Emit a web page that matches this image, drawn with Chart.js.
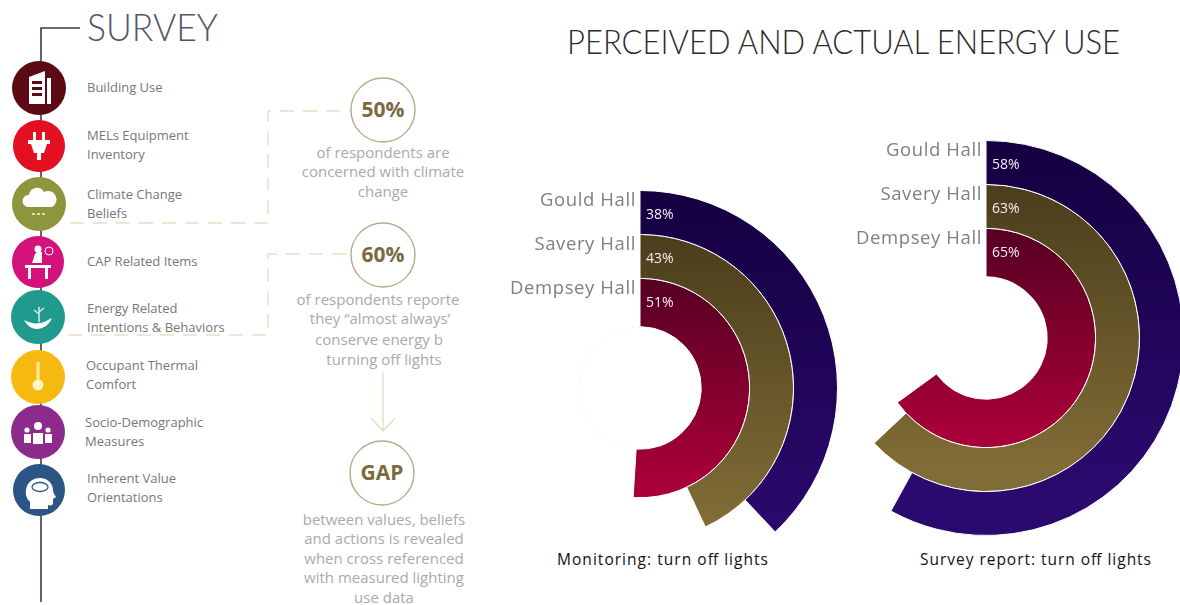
<!DOCTYPE html>
<html>
<head>
<meta charset="utf-8">
<script src="https://cdn.jsdelivr.net/npm/chart.js@4"></script>
<style>
  html, body { margin: 0; background: #fff; overflow: hidden; }
  #page { position: relative; width: 1180px; height: 605px; overflow: hidden; }
  #panel { position: absolute; left: 0; top: 0; }
  canvas { position: absolute; }
  #monitoringChart { left: 442px; top: 190px; }
  #surveyChart { left: 788px; top: 140px; }
  .topic { font: 13px "Open Sans", sans-serif; fill: #777; }
  .note { font: 15px "Open Sans", sans-serif; fill: #aaa; text-anchor: middle; }
  .stat { font: 700 21px "Open Sans", sans-serif; fill: #7b6a3c; text-anchor: middle; }
  .ring { fill: #fff; stroke: #b5ac8a; stroke-width: 1.4; }
  .link { fill: none; stroke: #e6dfc4; stroke-width: 1.4; stroke-dasharray: 14 9; }
  .caption { font: 15.5px "Open Sans", sans-serif; fill: #111; }
  .ico { fill: #fff; }
</style>
</head>
<body>
<div id="page">
  <svg id="panel" width="1180" height="605">
    <!-- timeline spine -->
    <path d="M80 28H41V602" fill="none" stroke="#3c3c4c" stroke-width="1.6"/>
    <text x="87" y="41" font-family="Lato" font-weight="300" font-size="37" fill="#55556a" textLength="131" lengthAdjust="spacingAndGlyphs">SURVEY</text>

    <!-- survey topics -->
    <circle cx="39" cy="88" r="27" fill="#5c0a14"/>
    <path class="ico" d="M29 77l16-6v33H29zM32 81v3h10v-3zM32 87v3h10v-3zM32 93v3h10v-3zM47 78h4v26h-4z"/>
    <circle cx="39" cy="146" r="26" fill="#e31021"/>
    <path class="ico" d="M33 132h3v8h6v-8h3v8h5v4h-3l-3 9h-3v7h-4v-7h-3l-3-9h-3v-4h5z"/>
    <circle cx="39" cy="204" r="27" fill="#8d963c"/>
    <path class="ico" d="M28 207a6 6 0 0 1 1-12 8 8 0 0 1 15-3 8 8 0 0 1 8 15z"/>
    <path d="M32 214h14" stroke="#dfe2b5" stroke-width="2" stroke-dasharray="3 2"/>
    <circle cx="38" cy="262" r="26" fill="#d4127e"/>
    <path class="ico" d="M25 265h26v3h-3v11h-3v-11H31v11h-3v-11h-3zM32 263l3-9a4 4 0 0 1 3-2h4v11z"/>
    <circle class="ico" cx="38" cy="249" r="3.5"/>
    <circle cx="49" cy="251" r="4" fill="none" stroke="#fff" stroke-width="1"/>
    <circle cx="38" cy="317" r="27" fill="#1f9a8c"/>
    <path class="ico" d="M24 320c6 3 12 4 15 3 4 0 7-2 13-5-3 7-9 11-15 11-6 0-10-4-13-9z"/>
    <path d="M39 322V307M39 314l-5-4M39 312l5-4" stroke="#cfe9e4" stroke-width="1.6" fill="none"/>
    <circle cx="38" cy="377" r="27" fill="#f6b90f"/>
    <circle cx="38" cy="385" r="5.5" fill="#fff4c4"/>
    <path d="M38 380V362" stroke="#fde58c" stroke-width="3.5"/>
    <circle cx="38" cy="432" r="27" fill="#8c2b8c"/>
    <path class="ico" d="M33 433h10v11H33zM24 434h7v9h-7zM45 434h7v9h-7z"/>
    <circle class="ico" cx="38" cy="426" r="4"/>
    <circle class="ico" cx="27" cy="430" r="2.6"/>
    <circle class="ico" cx="48" cy="430" r="2.6"/>
    <circle cx="39" cy="490" r="26" fill="#2b5584"/>
    <path class="ico" d="M30 509v-7c-3-3-5-7-4-12 1-8 7-12 14-12 8 0 13 6 13 12 0 2 1 4 3 7l-3 2v4c0 2-2 3-5 2v4z"/>
    <ellipse cx="40" cy="487" rx="8" ry="4.5" fill="none" stroke="#2b5584" stroke-width="1.3"/>

    <text class="topic" x="87" y="92">Building Use</text>
    <text class="topic" x="87" y="140">MELs Equipment</text>
    <text class="topic" x="87" y="159">Inventory</text>
    <text class="topic" x="87" y="199">Climate Change</text>
    <text class="topic" x="87" y="218">Beliefs</text>
    <text class="topic" x="87" y="266">CAP Related Items</text>
    <text class="topic" x="87" y="313">Energy Related</text>
    <text class="topic" x="87" y="332">Intentions &amp; Behaviors</text>
    <text class="topic" x="86" y="370">Occupant Thermal</text>
    <text class="topic" x="86" y="389">Comfort</text>
    <text class="topic" x="85" y="427">Socio-Demographic</text>
    <text class="topic" x="85" y="446">Measures</text>
    <text class="topic" x="87" y="483">Inherent Value</text>
    <text class="topic" x="87" y="502">Orientations</text>

    <!-- dashed links into the stat bubbles -->
    <path class="link" d="M70 223H268V111H352"/>
    <path class="link" d="M68 335H268V254H352"/>

    <circle class="ring" cx="383" cy="110" r="32"/>
    <text class="stat" x="383" y="117">50%</text>
    <text class="note" x="383" y="158">of respondents are</text>
    <text class="note" x="383" y="177">concerned with climate</text>
    <text class="note" x="383" y="197">change</text>

    <circle class="ring" cx="383" cy="255" r="32"/>
    <text class="stat" x="383" y="262">60%</text>
    <text class="note" x="378" y="305">of respondents reporte</text>
    <text class="note" x="380" y="324">they “almost always’</text>
    <text class="note" x="379" y="345">conserve energy b</text>
    <text class="note" x="384" y="365">turning off lights</text>

    <path d="M383 372V431M371 418L383 431L395 418" fill="none" stroke="#e3dcc0" stroke-width="1.3"/>

    <circle class="ring" cx="382" cy="473" r="32"/>
    <text class="stat" x="382" y="480">GAP</text>
    <text class="note" x="384" y="525">between values, beliefs</text>
    <text class="note" x="384" y="544">and actions is revealed</text>
    <text class="note" x="384" y="564">when cross referenced</text>
    <text class="note" x="384" y="583">with measured lighting</text>
    <text class="note" x="384" y="603">use data</text>

    <!-- faint trace of the empty core -->
    <path d="M640 327A61 61 0 0 0 640 449" fill="none" stroke="#eeeeee" stroke-width="1" stroke-dasharray="2 4"/>

    <!-- right hand heading and captions -->
    <text x="567" y="54" font-family="Lato" font-weight="300" font-size="33" fill="#2a2a2a" textLength="553" lengthAdjust="spacingAndGlyphs">PERCEIVED AND ACTUAL ENERGY USE</text>
    <text class="caption" x="557" y="565" textLength="211">Monitoring: turn off lights</text>
    <text class="caption" x="920" y="565" textLength="231">Survey report: turn off lights</text>
  </svg>
  <canvas id="monitoringChart" width="396" height="396"></canvas>
  <canvas id="surveyChart" width="396" height="396"></canvas>
</div>

<script>
const halls = ['Gould Hall', 'Savery Hall', 'Dempsey Hall'];
const monitoring = [38, 43, 51];
const surveyReport = [58, 63, 65];
const ringTop = ['#150040', '#4b3d1c', '#560022'];
const ringBottom = ['#2b0a70', '#806c36', '#a80038'];
const ringWeight = [44, 44, 48.5];

// vertical shade across each ring, outermost ring first
function ringFill(context) {
  if (context.dataIndex === 1) return 'transparent';
  const area = context.chart.chartArea;
  if (!area) return ringBottom[context.datasetIndex];
  const cy = (area.top + area.bottom) / 2;
  const r = (area.bottom - area.top) / 2 * (1 - context.datasetIndex * 0.225);
  const grad = context.chart.ctx.createLinearGradient(0, cy - r, 0, cy + r * 0.85);
  grad.addColorStop(0, ringTop[context.datasetIndex]);
  grad.addColorStop(1, ringBottom[context.datasetIndex]);
  return grad;
}

// hall names sit left of the 12 o'clock edge, percentages just inside the ring
const ringLabels = {
  id: 'ringLabels',
  afterDatasetsDraw(chart) {
    const ctx = chart.ctx;
    ctx.save();
    ctx.textBaseline = 'middle';
    chart.data.datasets.forEach((ds, i) => {
      const arc = chart.getDatasetMeta(i).data[0];
      ctx.font = '18.5px "Open Sans"';
      ctx.letterSpacing = '0.6px';
      ctx.textAlign = 'right';
      ctx.fillStyle = '#7f7f7f';
      ctx.fillText(ds.label, arc.x - 4, arc.y - arc.outerRadius + 10);
      ctx.font = '14px "Open Sans"';
      ctx.letterSpacing = '0px';
      ctx.textAlign = 'left';
      ctx.fillStyle = '#f4eef2';
      ctx.fillText(ds.data[0] + '%', arc.x + 6, arc.y - arc.outerRadius + 25);
    });
    ctx.restore();
  }
};

function makeRings(id, values) {
  return new Chart(document.getElementById(id).getContext('2d'), {
    type: 'doughnut',
    data: {
      labels: ['share', 'rest'],
      datasets: halls.map((hall, i) => ({
        label: hall,
        data: [values[i], 100 - values[i]],
        weight: ringWeight[i],
        backgroundColor: ringFill,
        borderColor: ctx => ctx.dataIndex === 1 ? 'transparent' : '#fff',
        borderWidth: 1
      }))
    },
    options: {
      responsive: false,
      animation: false,
      cutout: '31%',
      layout: { padding: 0 },
      events: [],
      plugins: {
        legend: { display: false },
        tooltip: { enabled: false }
      }
    },
    plugins: [ringLabels]
  });
}

makeRings('monitoringChart', monitoring);
makeRings('surveyChart', surveyReport);
</script>
</body>
</html>
